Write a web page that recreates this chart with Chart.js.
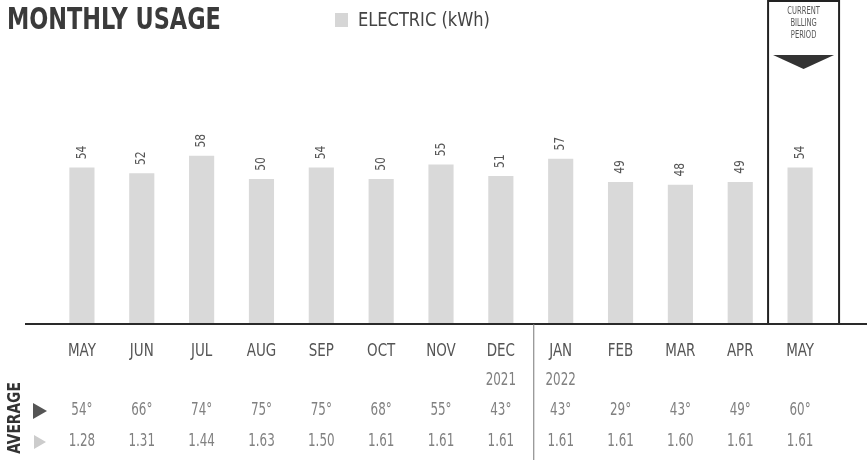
<!DOCTYPE html>
<html lang="en">

<head>
    <meta charset="UTF-8">
    <meta name="viewport" content="width=device-width, initial-scale=1.0">
    <script src="https://cdn.jsdelivr.net/npm/chart.js@4"></script>
    <title>Monthly Usage</title>
    <style>
        body { margin: 0; background: #fff; }
        canvas { display: block; }
    </style>
</head>

<body>
    <canvas id="usageChart" width="867" height="460"></canvas>
    <script>
        var months = ['MAY', 'JUN', 'JUL', 'AUG', 'SEP', 'OCT', 'NOV', 'DEC', 'JAN', 'FEB', 'MAR', 'APR', 'MAY'];
        var years = ['', '', '', '', '', '', '', '2021', '2022', '', '', '', ''];
        var kwh = [54, 52, 58, 50, 54, 50, 55, 51, 57, 49, 48, 49, 54];
        var avgTemp = [54, 66, 74, 75, 75, 68, 55, 43, 43, 29, 43, 49, 60];
        var avgDaily = ['1.28', '1.31', '1.44', '1.63', '1.50', '1.61', '1.61', '1.61', '1.61', '1.61', '1.60', '1.61', '1.61'];

        var face = '"DejaVu Sans Condensed", "Liberation Sans", sans-serif';

        // squeezed text, the bill uses a tall condensed face
        function narrowText(ctx, text, x, y, squeeze) {
            ctx.save();
            ctx.translate(x, y);
            ctx.scale(squeeze, 1);
            ctx.fillText(text, 0, 0);
            ctx.restore();
        }

        var billPlugin = {
            id: 'billPlugin',
            afterDraw: function (chart) {
                var ctx = chart.ctx;
                var x = chart.scales.x;
                var y = chart.scales.y;
                var base = y.getPixelForValue(0);
                ctx.save();

                // title + legend
                ctx.fillStyle = '#3a3a3a';
                ctx.font = 'bold 30px ' + face;
                ctx.textBaseline = 'middle';
                ctx.textAlign = 'left';
                narrowText(ctx, 'MONTHLY USAGE', 7, 21, 0.83);
                ctx.fillStyle = '#d6d6d6';
                ctx.fillRect(335, 13, 13, 14);
                ctx.fillStyle = '#444';
                ctx.font = '19px ' + face;
                narrowText(ctx, 'ELECTRIC (kWh)', 358, 21, 0.95);

                // value labels, rotated
                ctx.font = '14px ' + face;
                ctx.fillStyle = '#555';
                ctx.textAlign = 'center';
                kwh.forEach(function (v, i) {
                    ctx.save();
                    ctx.translate(x.getPixelForValue(i), y.getPixelForValue(v) - 15);
                    ctx.rotate(-Math.PI / 2);
                    ctx.scale(0.85, 1);
                    ctx.fillText(String(v), 0, 0);
                    ctx.restore();
                });

                // current billing period box
                var last = x.getPixelForValue(months.length - 1);
                var bl = last - 32, br = last + 39;
                ctx.strokeStyle = '#222';
                ctx.lineWidth = 2;
                ctx.strokeRect(bl, 1, br - bl, base - 1);
                ctx.fillStyle = '#555';
                ctx.font = '10px ' + face;
                var bc = (bl + br) / 2;
                narrowText(ctx, 'CURRENT', bc, 11, 0.75);
                narrowText(ctx, 'BILLING', bc, 23, 0.75);
                narrowText(ctx, 'PERIOD', bc, 35, 0.75);
                ctx.fillStyle = '#333';
                ctx.beginPath();
                ctx.moveTo(bl + 5, 55);
                ctx.lineTo(br - 5, 55);
                ctx.lineTo(bc, 69);
                ctx.closePath();
                ctx.fill();

                // baseline
                ctx.strokeStyle = '#2a2a2a';
                ctx.lineWidth = 2;
                ctx.beginPath();
                ctx.moveTo(25, base);
                ctx.lineTo(867, base);
                ctx.stroke();

                // year divider
                var dx = (x.getPixelForValue(7) + x.getPixelForValue(8)) / 2 + 3;
                ctx.strokeStyle = '#777';
                ctx.lineWidth = 1;
                ctx.beginPath();
                ctx.moveTo(dx, base);
                ctx.lineTo(dx, 460);
                ctx.stroke();

                // table rows
                ctx.font = '17px ' + face;
                months.forEach(function (m, i) {
                    var px = x.getPixelForValue(i);
                    ctx.fillStyle = '#555';
                    narrowText(ctx, m, px, 352, 0.88);
                    ctx.fillStyle = '#808080';
                    if (years[i]) narrowText(ctx, years[i], px, 381, 0.78);
                    narrowText(ctx, avgTemp[i] + '\u00b0', px, 411, 0.78);
                    narrowText(ctx, avgDaily[i], px, 442, 0.78);
                });

                // AVERAGE label + markers
                ctx.save();
                ctx.translate(15, 418);
                ctx.rotate(-Math.PI / 2);
                ctx.fillStyle = '#333';
                ctx.font = 'bold 18px ' + face;
                ctx.scale(0.85, 1);
                ctx.fillText('AVERAGE', 0, 0);
                ctx.restore();
                ctx.fillStyle = '#555';
                ctx.beginPath();
                ctx.moveTo(33, 403);
                ctx.lineTo(47, 411);
                ctx.lineTo(33, 419);
                ctx.closePath();
                ctx.fill();
                ctx.fillStyle = '#ccc';
                ctx.beginPath();
                ctx.moveTo(34, 435);
                ctx.lineTo(46, 442);
                ctx.lineTo(34, 449);
                ctx.closePath();
                ctx.fill();

                ctx.restore();
            }
        };

        var ctx = document.getElementById('usageChart').getContext('2d');
        var usageChart = new Chart(ctx, {
            type: 'bar',
            data: {
                labels: months,
                datasets: [{
                    label: 'ELECTRIC (kWh)',
                    data: kwh,
                    backgroundColor: '#d9d9d9',
                    barPercentage: 0.42,
                    categoryPercentage: 1
                }]
            },
            options: {
                responsive: false,
                animation: false,
                layout: { padding: { left: 52, right: 37, top: 34, bottom: 136 } },
                plugins: {
                    legend: { display: false },
                    tooltip: { enabled: false }
                },
                scales: {
                    x: { display: false },
                    y: { display: false, min: 0, max: 100 }
                }
            },
            plugins: [billPlugin]
        });
    </script>
</body>

</html>
